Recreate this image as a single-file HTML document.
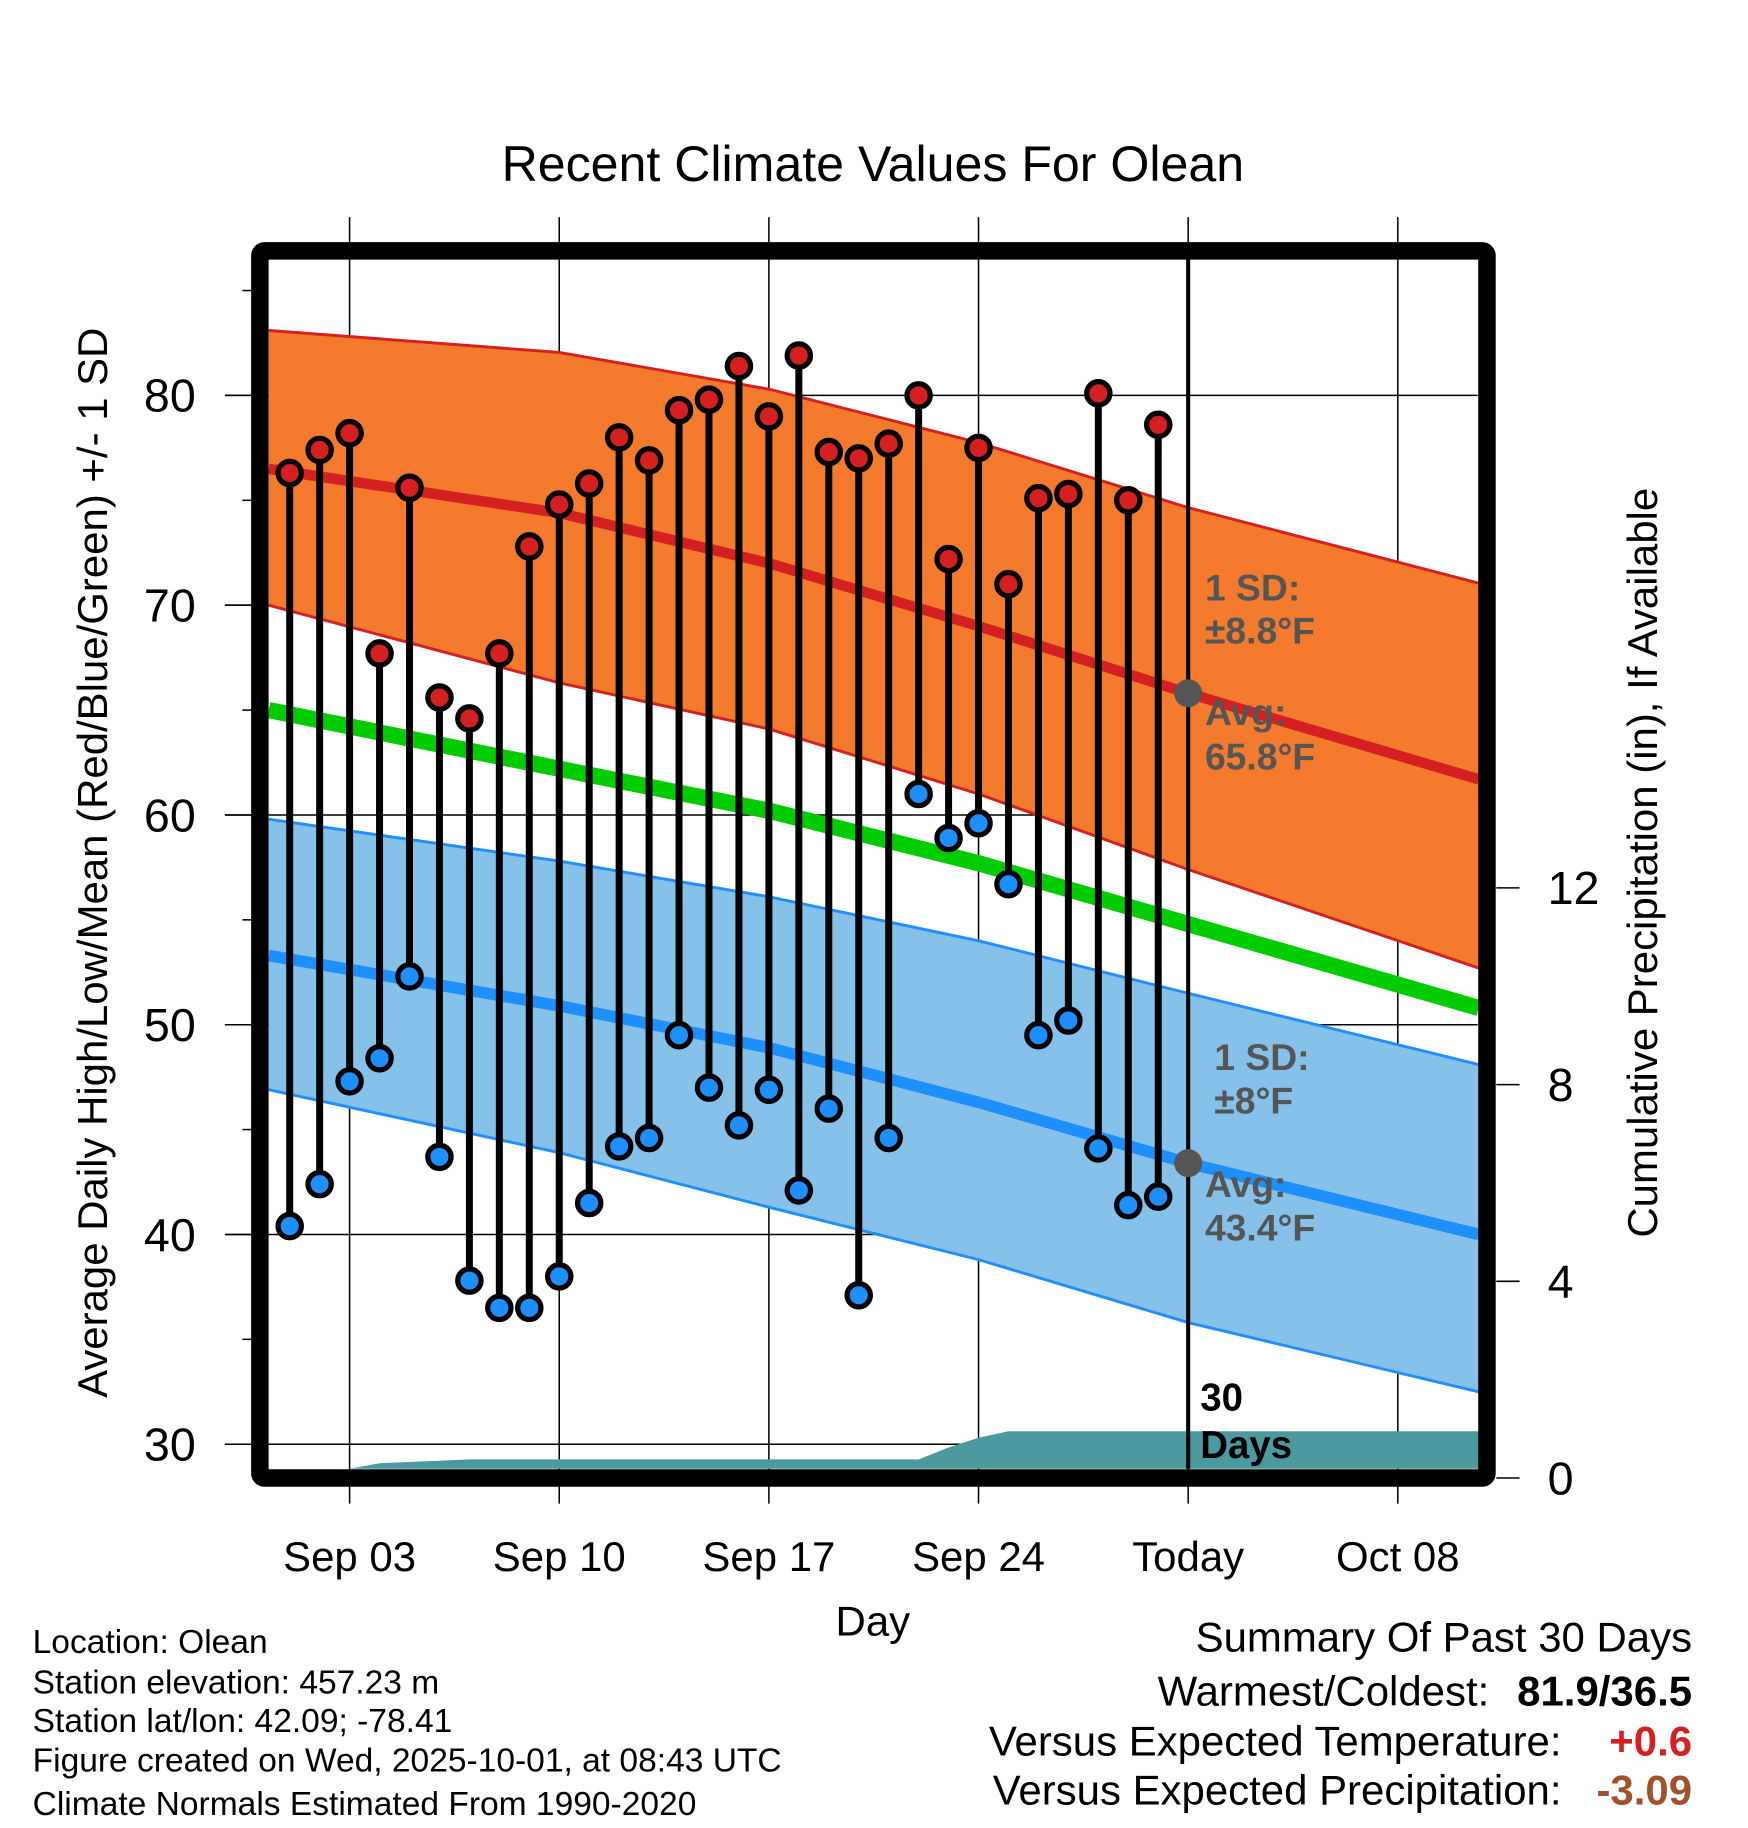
<!DOCTYPE html>
<html><head><meta charset="utf-8"><style>
html,body{margin:0;padding:0;background:#fff}
svg{display:block;font-family:"Liberation Sans",sans-serif}
</style></head><body>
<svg id="chart" width="1748" height="1828" viewBox="0 0 1500 1568" xmlns="http://www.w3.org/2000/svg">
<text x="749" y="155" text-anchor="middle" font-size="43">Recent Climate Values For Olean</text>
<g id="grid"></g>
<g id="bands"></g>
<g id="precip"></g>
<g id="points"></g>
<g id="axes"></g>
<text transform="translate(92,740) rotate(-90)" text-anchor="middle" font-size="36">Average Daily High/Low/Mean (Red/Blue/Green) +/- 1 SD</text>
<text transform="translate(1422,740) rotate(-90)" text-anchor="middle" font-size="36">Cumulative Precipitation (in), If Available</text>
<text x="749" y="1403" text-anchor="middle" font-size="36">Day</text>
<g font-size="28.8">
<text x="28" y="1418">Location: Olean</text>
<text x="28" y="1453">Station elevation: 457.23 m</text>
<text x="28" y="1486">Station lat/lon: 42.09; -78.41</text>
<text x="28" y="1520">Figure created on Wed, 2025-10-01, at 08:43 UTC</text>
<text x="28" y="1557">Climate Normals Estimated From 1990-2020</text>
</g>
<g font-size="36">
<text x="1452" y="1417" text-anchor="end">Summary Of Past 30 Days</text>
<text x="1278" y="1463" text-anchor="end">Warmest/Coldest:</text>
<text x="1452" y="1463" text-anchor="end" font-weight="bold">81.9/36.5</text>
<text x="1340" y="1506" text-anchor="end">Versus Expected Temperature:</text>
<text x="1452" y="1506" text-anchor="end" font-weight="bold" fill="#d42020">+0.6</text>
<text x="1340" y="1548" text-anchor="end">Versus Expected Precipitation:</text>
<text x="1452" y="1548" text-anchor="end" font-weight="bold" fill="#a0522d">-3.09</text>
</g>
</svg>
<script>
const NS="http://www.w3.org/2000/svg";
// data
const highs=[76.3,77.4,78.2,67.7,75.6,65.6,64.6,67.7,72.8,74.8,75.8,78.0,76.9,79.3,79.8,81.4,79.0,81.9,77.3,77.0,77.7,80.0,72.2,77.5,71.0,75.1,75.3,80.1,75.0,78.6];
const lows=[40.4,42.4,47.3,48.4,52.3,43.7,37.8,36.5,36.5,38.0,41.5,44.2,44.6,49.5,47.0,45.2,46.9,42.1,46.0,37.1,44.6,61.0,58.9,59.6,56.7,49.5,50.2,44.1,41.4,41.8];
const normDays=[-0.7,9,16,23,30,39.7];
const redTop=[83.1,82.05,80.3,77.75,74.65,71.05];
const redMean=[76.5,74.4,72.0,69.0,65.8,61.7];
const redLow=[70.0,66.3,64.1,61.0,57.4,52.7];
const greenMean=[65.0,62.2,60.2,57.7,54.8,50.8];
const blueTop=[59.8,57.8,56.1,54.0,51.5,48.1];
const blueMean=[53.3,50.9,48.9,46.3,43.4,40.0];
const blueLow=[46.9,43.9,41.3,38.8,35.8,32.5];
const precipDays=[-0.7,1,2,3,5,6,20,21,22,23,24,39.7];
const precipVals=[0,0,0,0.3,0.35,0.38,0.38,0.38,0.62,0.82,0.95,0.95];
const xTickDays=[2,9,16,23,30,37];
const xTickLabels=["Sep 03","Sep 10","Sep 17","Sep 24","Today","Oct 08"];
const yTicks=[30,40,50,60,70,80];
const y2Ticks=[0,4,8,12];
// scales (day 0 = Sep 01)
const X=d=>248.6+d*25.7;
const Y=v=>339+(80-v)*18;
const Y2=p=>1268-p*42.2;
const L=231,R=1268,T=222,B=1260;
function el(tag,attrs,parent){const e=document.createElementNS(NS,tag);for(const k in attrs)e.setAttribute(k,attrs[k]);parent.appendChild(e);return e;}
const grid=document.getElementById('grid'),bands=document.getElementById('bands'),pr=document.getElementById('precip'),pts=document.getElementById('points'),ax=document.getElementById('axes');
function pathLine(arr){return normDays.map((d,i)=>(i?'L':'M')+X(d).toFixed(1)+' '+Y(arr[i]).toFixed(1)).join(' ');}
function pathArea(top,bot){let s=pathLine(top);for(let i=normDays.length-1;i>=0;i--)s+=' L'+X(normDays[i]).toFixed(1)+' '+Y(bot[i]).toFixed(1);return s+'Z';}
let e;
e=el('path',{d:pathArea(redTop,redLow),fill:'#f47a2e'},bands);

e=el('path',{d:pathArea(blueTop,blueLow),fill:'#85c1e9'},bands);

[[redTop,'#d42020',2.5],[redLow,'#d42020',2.5],[blueTop,'#1e8fff',2.5],[blueLow,'#1e8fff',2.5]].forEach(a=>{
 e=el('path',{d:pathLine(a[0]),fill:'none',stroke:a[1],'stroke-width':a[2]},bands);
 });
e=el('path',{d:pathLine(greenMean),fill:'none',stroke:'#00cc00','stroke-width':14},bands);

e=el('path',{d:pathLine(redMean),fill:'none',stroke:'#d42020','stroke-width':9},bands);

e=el('path',{d:pathLine(blueMean),fill:'none',stroke:'#1e8fff','stroke-width':10},bands);

// grid
yTicks.forEach(v=>{e=el('line',{x1:193,x2:R,y1:Y(v),y2:Y(v),stroke:'#000','stroke-width':1.3},grid);
 });
xTickDays.forEach(d=>{e=el('line',{x1:X(d),x2:X(d),y1:186,y2:1290,stroke:'#000','stroke-width':1.3},grid);
 });
// precip
let ps='M'+X(precipDays[0])+' '+B;
precipDays.forEach((d,i)=>{ps+=' L'+X(d).toFixed(1)+' '+Math.min(B,Y2(precipVals[i])).toFixed(1);});
ps+=' L'+X(precipDays[precipDays.length-1])+' '+B+'Z';
e=el('path',{d:ps,fill:'#4a9aa0'},pr);

// today line
e=el('line',{x1:X(30),x2:X(30),y1:T,y2:B,stroke:'#000','stroke-width':3.5},pts);

// points
highs.forEach((h,i)=>{
 e=el('line',{x1:X(i),x2:X(i),y1:Y(h),y2:Y(lows[i]),stroke:'#000','stroke-width':6},pts);
 
 e=el('circle',{cx:X(i),cy:Y(h),r:10,fill:'#d42020',stroke:'#000','stroke-width':4.5},pts);
 
 e=el('circle',{cx:X(i),cy:Y(lows[i]),r:10,fill:'#1e8fff',stroke:'#000','stroke-width':4.5},pts);
 
});
e=el('circle',{cx:X(30),cy:Y(redMean[4]),r:12,fill:'#555'},pts);

e=el('circle',{cx:X(30),cy:Y(blueMean[4]),r:12,fill:'#555'},pts);

// annotations
function txt(s,x,y,attrs,name){const t=el('text',Object.assign({x:x,y:y},attrs),pts);t.textContent=s;return t;}
const ga={'font-size':32,'font-weight':'bold',fill:'#555'};
txt('1 SD:',1034,515,ga,'high-sd-label');
txt('±8.8°F',1034,552,ga,'high-sd-value');
txt('Avg:',1034,622,ga,'high-avg-label');
txt('65.8°F',1034,660,ga,'high-avg-value');
txt('1 SD:',1042,918,ga,'low-sd-label');
txt('±8°F',1042,955,ga,'low-sd-value');
txt('Avg:',1034,1027,ga,'low-avg-label');
txt('43.4°F',1034,1064,ga,'low-avg-value');
const ka={'font-size':33,'font-weight':'bold',fill:'#000'};
txt('30',1030,1210,ka,'days-count-label');
txt('Days',1030,1251,ka,'days-label');
// frame
e=el('rect',{x:L-8,y:T-7,width:R-L+16,height:B-T+15,fill:'none',stroke:'#000','stroke-width':15,rx:4},ax);

// ticks + labels
for(let v=30;v<=85;v+=5){e=el('line',{x1:(v%10?208:193),x2:216,y1:Y(v),y2:Y(v),stroke:'#000','stroke-width':1.3},ax);
 }
yTicks.forEach(v=>{const t=el('text',{x:168,y:Y(v)+14,'text-anchor':'end','font-size':40},ax);t.textContent=v;
 });
y2Ticks.forEach(p=>{e=el('line',{x1:1284,x2:1304,y1:Y2(p),y2:Y2(p),stroke:'#000','stroke-width':1.3},ax);
 
 const t=el('text',{x:1328,y:Y2(p)+14,'text-anchor':'start','font-size':40},ax);t.textContent=p;
 });
xTickDays.forEach((d,i)=>{const t=el('text',{x:X(d),y:1348,'text-anchor':'middle','font-size':36},ax);t.textContent=xTickLabels[i];
 });
</script>
</body></html>
